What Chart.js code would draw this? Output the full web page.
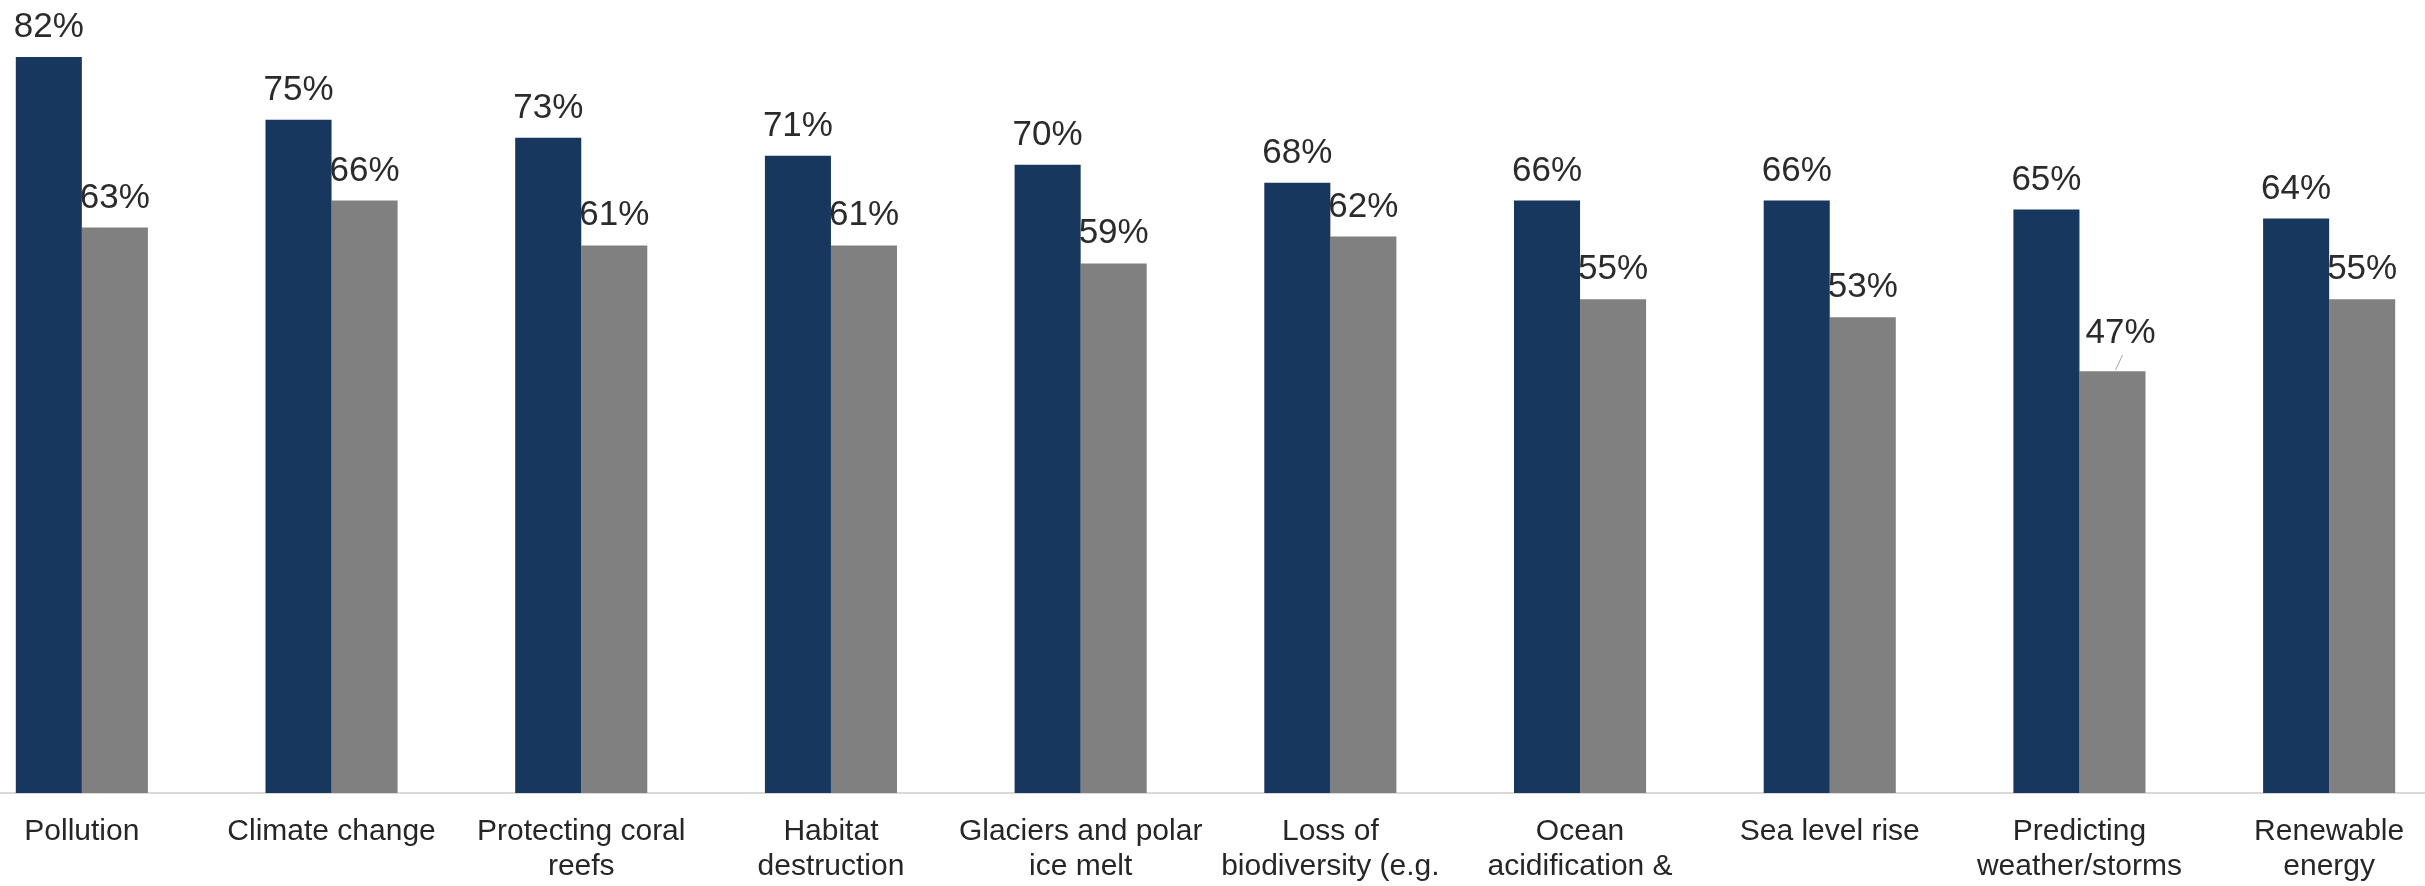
<!DOCTYPE html>
<html>
<head>
<meta charset="utf-8">
<script src="https://cdn.jsdelivr.net/npm/chart.js@4"></script>
<style>
  html, body { margin: 0; padding: 0; background: #fff; overflow: hidden; }
  body { width: 2425px; height: 886px; position: relative; }
  #wrap { position: absolute; left: -43px; top: 0; width: 2497px; height: 886px; }
</style>
</head>
<body>
<div id="wrap"><canvas id="chart"></canvas></div>
<script>
/* =========================
   DATA
========================= */
const categories = [
  "Pollution",
  "Climate change",
  ["Protecting coral", "reefs"],
  ["Habitat", "destruction"],
  ["Glaciers and polar", "ice melt"],
  ["Loss of", "biodiversity (e.g."],
  ["Ocean", "acidification &"],
  "Sea level rise",
  ["Predicting", "weather/storms"],
  ["Renewable", "energy"]
];

const seriesA = [82, 75, 73, 71, 70, 68, 66, 66, 65, 64];
const seriesB = [63, 66, 61, 61, 59, 62, 55, 53, 47, 55];

/* =========================
   VALUE LABELS
========================= */
const valueLabels = {
  id: "valueLabels",
  afterDatasetsDraw(chart) {
    const ctx = chart.ctx;
    ctx.save();
    ctx.font = "35px 'Liberation Sans', Arial, sans-serif";
    ctx.fillStyle = "#2b2b2b";
    ctx.textAlign = "center";
    ctx.textBaseline = "alphabetic";
    chart.data.datasets.forEach((ds, di) => {
      chart.getDatasetMeta(di).data.forEach((bar, i) => {
        // the one low label sits a bit higher with a small leader line
        const lifted = di === 1 && i === 8;
        const gap = lifted ? 28 : 20;
        ctx.fillText(ds.data[i] + "%", bar.x + (lifted ? 8 : 0), bar.y - gap);
        if (lifted) {
          ctx.strokeStyle = "#a6a6a6";
          ctx.lineWidth = 1;
          ctx.beginPath();
          ctx.moveTo(bar.x + 3, bar.y - 1);
          ctx.lineTo(bar.x + 10, bar.y - 16);
          ctx.stroke();
        }
      });
    });
    ctx.restore();
  }
};

/* =========================
   CHART
========================= */
const ctx = document.getElementById("chart").getContext("2d");

new Chart(ctx, {
  type: "bar",
  data: {
    labels: categories,
    datasets: [
      { label: "A", data: seriesA, backgroundColor: "#17375e" },
      { label: "B", data: seriesB, backgroundColor: "#808080" }
    ]
  },
  options: {
    responsive: true,
    maintainAspectRatio: false,
    animation: false,
    layout: { padding: 0 },
    datasets: {
      bar: { categoryPercentage: 0.529, barPercentage: 1 }
    },
    plugins: {
      legend: { display: false },
      tooltip: { enabled: false }
    },
    scales: {
      x: {
        grid: { display: false, drawTicks: false },
        border: { display: true, color: "#d9d9d9", width: 2 },
        ticks: {
          padding: 21,
          maxRotation: 0,
          autoSkip: false,
          color: "#262626",
          font: { family: "'Liberation Sans', Arial, sans-serif", size: 30, lineHeight: 1.17 }
        },
        afterFit(scale) { scale.height = 93; }
      },
      y: {
        display: false,
        min: 0,
        max: 88.35
      }
    }
  },
  plugins: [valueLabels]
});
</script>
</body>
</html>
